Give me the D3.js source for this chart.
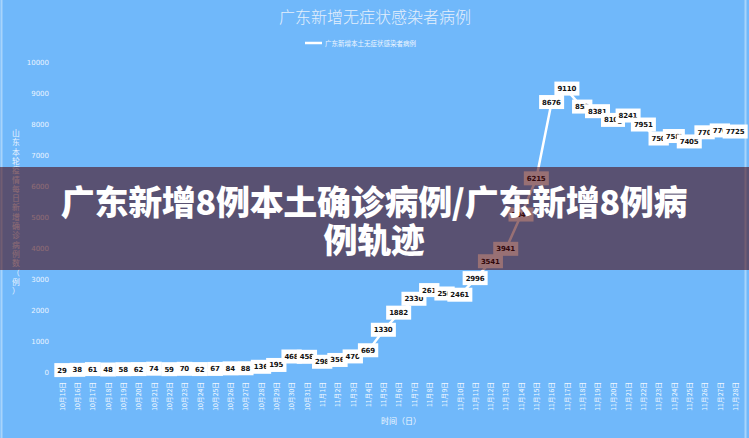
<!DOCTYPE html>
<html><head><meta charset="utf-8">
<script src="https://cdn.jsdelivr.net/npm/d3@7/dist/d3.min.js"></script>
<style>html,body{margin:0;padding:0;background:#70b8fa;}svg{display:block;}</style>
</head><body>
<svg id="c" width="749" height="438"></svg>
<script>
const dates = ["10月15日","10月16日","10月17日","10月18日","10月19日","10月20日","10月21日","10月22日","10月23日","10月24日","10月25日","10月26日","10月27日","10月28日","10月29日","10月30日","10月31日","11月1日","11月2日","11月3日","11月4日","11月5日","11月6日","11月7日","11月8日","11月9日","11月10日","11月11日","11月12日","11月13日","11月14日","11月15日","11月16日","11月17日","11月18日","11月19日","11月20日","11月21日","11月22日","11月23日","11月24日","11月25日","11月26日","11月27日","11月28日"];
const values = [29,38,61,48,58,62,74,59,70,62,67,84,88,136,195,468,458,298,356,470,669,1330,1882,2330,2610,2500,2461,2996,3541,3941,5047,6215,8676,9110,8530,8381,8100,8241,7951,7500,7580,7405,7700,7760,7725];
const labels = ["29","38","61","48","58","62","74","59","70","62","67","84","88","136","195","468","458","298","356","470","669","1330","1882","2330","261","250","2461","2996","3541","3941","5047","6215","8676","9110","853","8381","810_","8241","7951","750","758'","7405","770","776","7725"];
const yTicks = [0,1000,2000,3000,4000,5000,6000,7000,8000,9000,10000];
const titleText = "广东新增无症状感染者病例";
const legendText = "广东新增本土无症状感染者病例";
const yTitle = "山东本轮疫情每日新增确诊病例数（例）";
const xTitle = "时间（日）";
const overlayLines = ["广东新增8例本土确诊病例/广东新增8例病","例轨迹"];

const svg = d3.select("#c");
const W = 749, H = 438;
svg.append("rect").attr("width",W).attr("height",H).attr("fill","#70b8fa");
svg.append("rect").attr("x",1.5).attr("y",-2).attr("width",W-5).attr("height",H+4)
  .attr("fill","none").attr("stroke","#a8d4fb").attr("stroke-width",2);

const x = d3.scalePoint().domain(dates).range([62,735]);
const y = d3.scaleLinear().domain([0,10000]).range([372,62]);
const font = "'Noto Sans CJK SC','Noto Sans',sans-serif";

// title
svg.append("text").attr("x",375).attr("y",23).attr("text-anchor","middle")
  .attr("font-family",font).attr("font-size",16).attr("font-weight",300)
  .attr("fill","#e4effc").text(titleText);
// legend
svg.append("line").attr("x1",305).attr("x2",322).attr("y1",43).attr("y2",43)
  .attr("stroke","#fff").attr("stroke-width",2.5);
svg.append("text").attr("x",325).attr("y",45.5).attr("font-family",font)
  .attr("font-size",6.5).attr("fill","#eef6ff").text(legendText);

// y axis
const yAxis = d3.axisLeft(y).tickValues(yTicks).tickFormat(d3.format("d")).tickSize(0).tickPadding(0);
const ya = svg.append("g").attr("transform","translate(49,0)").call(yAxis);
ya.select(".domain").remove();
ya.selectAll("text").attr("font-family","'DejaVu Sans',sans-serif").attr("font-size",7)
  .attr("fill","#eaf4ff");

// y title vertical stacked
const yt = svg.append("text").attr("font-family",font).attr("font-size",7.8).attr("fill","#eaf4ff")
  .attr("text-anchor","middle");
Array.from(yTitle).forEach((ch,i)=>{
  yt.append("tspan").attr("x",16).attr("y",136+i*9.3).text(ch);
});

// x axis
const xAxis = d3.axisBottom(x).tickSize(0).tickPadding(0);
const xa = svg.append("g").attr("transform","translate(0,382)").call(xAxis);
xa.select(".domain").remove();
xa.selectAll("text").attr("font-family",font).attr("font-size",6.8).attr("fill","#f2f8ff")
  .attr("text-anchor","end").attr("transform","rotate(-90)").attr("dy","0.35em")
  .attr("x",0).attr("y",0);
svg.append("text").attr("x",401).attr("y",424).attr("text-anchor","middle")
  .attr("font-family",font).attr("font-size",8).attr("fill","#f2f8ff").text(xTitle);

// line
const line = d3.line().x((d,i)=>x(dates[i])).y(d=>y(d));
svg.append("path").datum(values).attr("d",line).attr("fill","none")
  .attr("stroke","#ffffff").attr("stroke-width",2.5).attr("stroke-linejoin","round");

// labels
const lg = svg.append("g");
values.forEach((v,i)=>{
  const g = lg.append("g").attr("transform",`translate(${x(dates[i])},${y(v)-1})`);
  const t = g.append("text").attr("text-anchor","middle").attr("dy","0.36em")
    .attr("font-family","'DejaVu Sans',sans-serif").attr("font-size",7).attr("font-weight","bold")
    .attr("fill","#111").attr("letter-spacing",-0.2).text(labels[i]);
  const bb = t.node().getBBox();
  g.insert("rect","text").attr("x",bb.x-3).attr("y",-7).attr("width",bb.width+6).attr("height",14)
    .attr("fill","#ffffff");
});

// overlay band
svg.append("rect").attr("x",0).attr("y",167).attr("width",W).attr("height",103)
  .attr("fill","rgb(72,0,8)").attr("fill-opacity",0.56);
overlayLines.forEach((s,i)=>{
  svg.append("text").attr("x",374).attr("y",215+i*38).attr("text-anchor","middle")
    .attr("font-family",font).attr("font-size",34).attr("font-weight",900)
    .attr("letter-spacing",-0.3)
    .attr("fill","#ffffff").text(s);
});
</script>
</body></html>
